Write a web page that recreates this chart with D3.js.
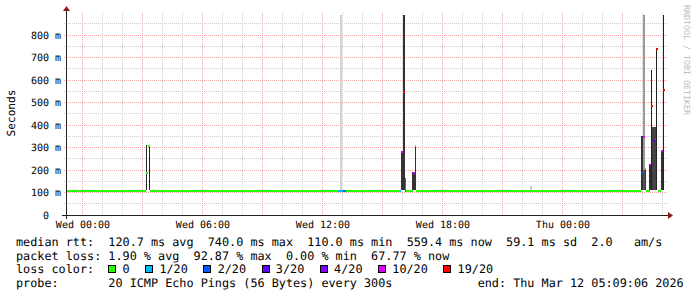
<!DOCTYPE html>
<html>
<head>
<meta charset="utf-8">
<script src="https://cdn.jsdelivr.net/npm/d3@7"></script>
<style>
  body { margin: 0; background: #fff; }
  svg { display: block; font-family: "DejaVu Sans Mono", monospace; }
  text { white-space: pre; }
</style>
</head>
<body>
<svg id="chart" width="697" height="297" text-rendering="geometricPrecision"></svg>
<script>
// time window of the graph (UTC)
const startTime = "2026-03-10T23:09:06";
const endTime = "2026-03-12T05:09:06";

// median rtt: start, end, ms, pings lost out of 20
const medianRows = [
  ["2026-03-10T23:09", "2026-03-11T03:10", 110, 0],
  ["2026-03-11T03:10", "2026-03-11T03:15", 190, 0],
  ["2026-03-11T03:15", "2026-03-11T03:20", 312, 0],
  ["2026-03-11T03:20", "2026-03-11T12:45", 110, 0],
  ["2026-03-11T12:45", "2026-03-11T13:00", 110, 1],
  ["2026-03-11T13:00", "2026-03-11T13:10", 110, 2],
  ["2026-03-11T13:10", "2026-03-11T15:50", 110, 0],
  ["2026-03-11T15:50", "2026-03-11T15:55", 110, 1],
  ["2026-03-11T15:55", "2026-03-11T16:00", 285, 10],
  ["2026-03-11T16:00", "2026-03-11T16:05", 553, 19],
  ["2026-03-11T16:05", "2026-03-11T16:10", 110, 10],
  ["2026-03-11T16:10", "2026-03-11T16:30", 110, 0],
  ["2026-03-11T16:30", "2026-03-11T16:35", 190, 10],
  ["2026-03-11T16:35", "2026-03-11T16:40", 312, 0],
  ["2026-03-11T16:40", "2026-03-12T03:55", 110, 0],
  ["2026-03-12T03:55", "2026-03-12T04:00", 190, 2],
  ["2026-03-12T04:00", "2026-03-12T04:05", 351, 10],
  ["2026-03-12T04:05", "2026-03-12T04:10", 210, 0],
  ["2026-03-12T04:10", "2026-03-12T04:20", 110, 0],
  ["2026-03-12T04:20", "2026-03-12T04:25", 227, 10],
  ["2026-03-12T04:25", "2026-03-12T04:30", 490, 19],
  ["2026-03-12T04:30", "2026-03-12T04:35", 333, 3],
  ["2026-03-12T04:35", "2026-03-12T04:40", 343, 10],
  ["2026-03-12T04:40", "2026-03-12T04:45", 741, 19],
  ["2026-03-12T04:45", "2026-03-12T04:55", 110, 0],
  ["2026-03-12T04:55", "2026-03-12T05:00", 289, 10],
  ["2026-03-12T05:00", "2026-03-12T05:05", 559, 19]
];

// smoke (spread of the pings): start, end, low ms, high ms, shade
const smokeRows = [
  ["2026-03-11T12:50", "2026-03-11T12:57", 110, 890, "#d4d4d4"],
  ["2026-03-11T22:20", "2026-03-11T22:26", 110, 130, "#cccccc"],
  ["2026-03-12T04:00", "2026-03-12T04:05", 110, 890, "#9a9a9a"],
  ["2026-03-11T16:05", "2026-03-11T16:10", 110, 165, "#666666"],
  ["2026-03-12T04:00", "2026-03-12T04:05", 110, 200, "#555555"],
  ["2026-03-12T04:25", "2026-03-12T04:38", 110, 393, "#444444"],
  ["2026-03-11T03:10", "2026-03-11T03:13", 110, 312, "#222222"],
  ["2026-03-11T03:17", "2026-03-11T03:20", 110, 312, "#222222"],
  ["2026-03-11T15:55", "2026-03-11T16:00", 110, 285, "#333333"],
  ["2026-03-11T16:00", "2026-03-11T16:05", 110, 890, "#333333"],
  ["2026-03-11T16:28", "2026-03-11T16:35", 110, 190, "#333333"],
  ["2026-03-11T16:35", "2026-03-11T16:40", 110, 312, "#333333"],
  ["2026-03-12T03:55", "2026-03-12T04:00", 110, 350, "#333333"],
  ["2026-03-12T04:05", "2026-03-12T04:10", 110, 210, "#333333"],
  ["2026-03-12T04:17", "2026-03-12T04:25", 110, 227, "#333333"],
  ["2026-03-12T04:25", "2026-03-12T04:28", 110, 645, "#222222"],
  ["2026-03-12T04:39", "2026-03-12T04:42", 110, 741, "#222222"],
  ["2026-03-12T04:55", "2026-03-12T05:00", 110, 289, "#333333"],
  ["2026-03-12T05:00", "2026-03-12T05:04", 110, 890, "#222222"]
];

// loss colours
const lossSteps = [0, 1, 2, 3, 4, 10, 19];
const lossLabels = ["0", "1/20", "2/20", "3/20", "4/20", "10/20", "19/20"];
const lossColors = ["#26ff00", "#00b8ff", "#0059ff", "#5e00ff", "#7e00ff", "#dd00ff", "#ff0000"];

// legend figures
const rttStats = [["avg", 120.7], ["max", 740.0], ["min", 110.0], ["now", 559.4]];
const rttSd = 59.1;
const rttAms = 2.0;
const lossStats = [["avg", 1.90], ["max", 92.87], ["min", 0.00], ["now", 67.77]];
const probeText = "20 ICMP Echo Pings (56 Bytes) every 300s";
const endText = "end: Thu Mar 12 05:09:06 2026";

const parseT = d3.utcParse("%Y-%m-%dT%H:%M");
const parseFull = d3.utcParse("%Y-%m-%dT%H:%M:%S");

const svg = d3.select("#chart");

const x0 = 66, x1 = 666, yTop = 13, yBase = 215;

const x = d3.scaleUtc()
    .domain([parseFull(startTime), parseFull(endTime)])
    .range([x0, x1]);

const y = d3.scaleLinear()
    .domain([0, 898])
    .range([yBase, yTop]);

const px = v => Math.floor(v) + 0.5;

// grid
const grid = svg.append("g").attr("shape-rendering", "crispEdges");

const minorY = y.ticks(20).filter(d => d > 0 && d % 100 !== 0);
const majorY = y.ticks(9).filter(d => d > 0);
const minorX = x.ticks(d3.utcHour.every(1)).filter(d => d.getUTCHours() % 3 !== 0);
const majorX = x.ticks(d3.utcHour.every(3));

function hLines(vals, color) {
    grid.selectAll(null).data(vals).enter().append("line")
        .attr("x1", x0 - 2).attr("x2", x1 + 2)
        .attr("y1", d => px(y(d))).attr("y2", d => px(y(d)))
        .attr("stroke", color)
        .attr("stroke-dasharray", "1,1");
}
function vLines(vals, color) {
    grid.selectAll(null).data(vals).enter().append("line")
        .attr("x1", d => px(x(d))).attr("x2", d => px(x(d)))
        .attr("y1", yTop).attr("y2", yBase + 2)
        .attr("stroke", color)
        .attr("stroke-dasharray", "1,1");
}
hLines(minorY, "#cfcfcf");
vLines(minorX, "#cfcfcf");
hLines(majorY, "#eeaaaa");
vLines(majorX, "#eeaaaa");

// smoke
const plot = svg.append("g").attr("shape-rendering", "crispEdges");

plot.selectAll(".smoke")
    .data(smokeRows)
    .enter().append("rect")
    .attr("class", "smoke")
    .attr("x", d => Math.round(x(parseT(d[0]))))
    .attr("width", d => Math.max(1, Math.round(x(parseT(d[1]))) - Math.round(x(parseT(d[0])))))
    .attr("y", d => Math.round(y(d[3])))
    .attr("height", d => Math.round(y(d[2])) - Math.round(y(d[3])))
    .attr("fill", d => d[4]);

// median, coloured by loss
const lossColor = d3.scaleThreshold()
    .domain(lossSteps.slice(1))
    .range(lossColors);

plot.selectAll(".median")
    .data(medianRows)
    .enter().append("rect")
    .attr("class", "median")
    .attr("x", d => Math.round(x(parseT(d[0]))))
    .attr("width", d => Math.max(1, Math.round(x(parseT(d[1]))) - Math.round(x(parseT(d[0])))))
    .attr("y", d => Math.round(y(d[2])))
    .attr("height", 2)
    .attr("fill", d => lossColor(d[3]));

// axes
const axisCol = "#222";
svg.append("line")
    .attr("x1", x0 - 4).attr("x2", x1 + 4)
    .attr("y1", yBase + 0.5).attr("y2", yBase + 0.5)
    .attr("stroke", axisCol).attr("shape-rendering", "crispEdges");
svg.append("line")
    .attr("x1", x0 + 0.5).attr("x2", x0 + 0.5)
    .attr("y1", yBase + 4).attr("y2", yTop - 4)
    .attr("stroke", axisCol).attr("shape-rendering", "crispEdges");

svg.append("path")
    .attr("d", `M${x1 + 2},${yBase - 3}L${x1 + 2},${yBase + 4}L${x1 + 7},${yBase + 0.5}Z`)
    .attr("fill", "#8b1a1a");
svg.append("path")
    .attr("d", `M${x0 - 3},${yTop - 2}L${x0 + 4},${yTop - 2}L${x0 + 0.5},${yTop - 7}Z`)
    .attr("fill", "#8b1a1a");

// tick labels
svg.append("g").selectAll("text")
    .data(y.ticks(9))
    .enter().append("text")
    .attr("x", 61)
    .attr("y", d => px(y(d)) + 3.5)
    .attr("text-anchor", "end")
    .attr("font-size", 10)
    .text(d => d === 0 ? "0  " : d + " m");

svg.append("g").selectAll("text")
    .data(x.ticks(d3.utcHour.every(6)))
    .enter().append("text")
    .attr("x", d => x(d))
    .attr("y", 228)
    .attr("text-anchor", "middle")
    .attr("font-size", 10)
    .text(d3.utcFormat("%a %H:%M"));

svg.append("text")
    .attr("transform", "translate(15,113)rotate(-90)")
    .attr("text-anchor", "middle")
    .attr("font-size", 11.1)
    .text("Seconds");

svg.append("text")
    .attr("transform", "translate(684,5)rotate(90)")
    .attr("font-size", 8.3)
    .attr("fill", "#bdbdbd")
    .text("RRDTOOL / TOBI OETIKER");

// legend
const P = 7.1, lx = 16, fs = 11.8;
const col = c => lx + c * P;

const line1 = "median rtt:  " +
    rttStats.map(d => d[1].toFixed(1) + " ms " + d[0]).join("  ") +
    "  " + rttSd.toFixed(1) + " ms sd  " + rttAms.toFixed(1) + "   am/s";
const line2 = "packet loss: " +
    lossStats.map(d => d[1].toFixed(2) + " % " + d[0]).join("  ");
const line4 = ("probe:       " + probeText).padEnd(65, " ") + endText;

const legend = svg.append("g").attr("font-size", fs);

legend.append("text").attr("x", lx).attr("y", 246).text(line1);
legend.append("text").attr("x", lx).attr("y", 259.5).text(line2);
legend.append("text").attr("x", lx).attr("y", 273.3).text("loss color:");
legend.append("text").attr("x", lx).attr("y", 287).text(line4);

let c = 13;
lossLabels.forEach((lab, i) => {
    legend.append("rect")
        .attr("x", Math.round(col(c)) + 0.5)
        .attr("y", 265.5)
        .attr("width", 7)
        .attr("height", 7)
        .attr("fill", lossColors[i])
        .attr("stroke", "#000")
        .attr("shape-rendering", "crispEdges");
    legend.append("text")
        .attr("x", col(c + 2))
        .attr("y", 273.3)
        .text(lab);
    c = c + 2 + lab.length + 2.2;
});
</script>
</body>
</html>
